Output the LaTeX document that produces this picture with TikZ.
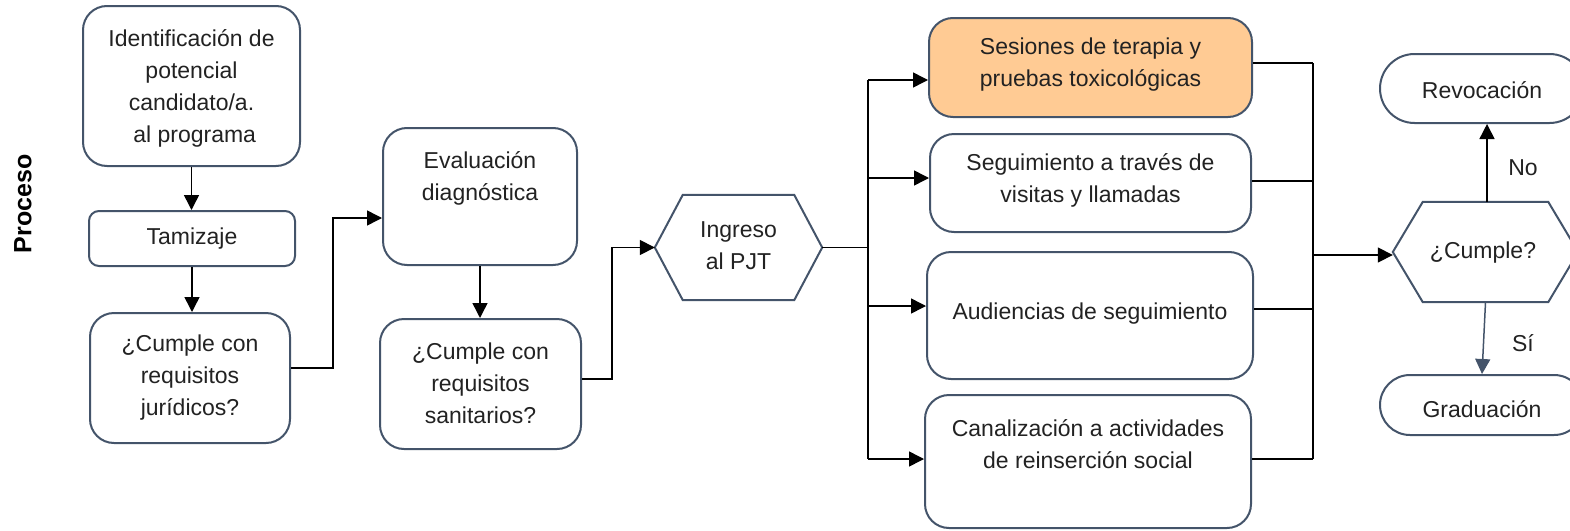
\documentclass[tikz,border=0pt]{standalone}
\usepackage{fontspec}
\setmainfont{Liberation Sans}
\usetikzlibrary{arrows.meta,calc}
\definecolor{bd}{HTML}{44546A}
\definecolor{og}{HTML}{FFCB94}
\definecolor{tx}{HTML}{222222}
\begin{document}
\begin{tikzpicture}[x=1pt,y=-1pt,
  box/.style={draw=bd,line width=2pt,rounded corners=24pt,fill=white,inner sep=0pt},
  hexbase/.style={inner sep=0pt},
  hexs/.style={draw=bd,line width=2pt,fill=white,line join=miter},
  txt/.style={font=\fontsize{23}{32}\selectfont,text=tx,align=center,inner sep=0pt},
  arr/.style={line width=1.5pt,-{Triangle[length=15pt,width=15pt]}},
  ln/.style={line width=1.5pt}]
\useasboundingbox (0,0) rectangle (1570,530);

% left column
\node[box,minimum width=217pt,minimum height=160pt] (id) at (191.5,86) {};
\node[txt] (idt) at (191.5,88) {Identificación de\\potencial\\candidato/a.\\~al programa};
\node[box,rounded corners=10pt,minimum width=206pt,minimum height=55pt] (tam) at (192,238.5) {};
\node[txt] (tamt) at (192,238.5) {Tamizaje};
\node[box,minimum width=200pt,minimum height=130pt] (jur) at (190,378) {};
\node[txt] (jurt) at (190,378) {¿Cumple con\\requisitos\\jurídicos?};

% second column
\node[box,minimum width=194pt,minimum height=137pt] (eval) at (480,196.5) {};
\node[txt] (evalt) at (480,178) {Evaluación\\diagnóstica};
\node[box,minimum width=201pt,minimum height=130pt] (san) at (480.5,384) {};
\node[txt] (sant) at (480.5,383) {¿Cumple con\\requisitos\\sanitarios?};

% Ingreso hexagon
\node[hexbase,minimum width=167pt,minimum height=105pt] (ing) at (738.5,247.5) {};
\draw[hexs] (ing.west) -- ([xshift=28pt]ing.north west) -- ([xshift=-28pt]ing.north east)
  -- (ing.east) -- ([xshift=-28pt]ing.south east) -- ([xshift=28pt]ing.south west) -- cycle;
\node[txt] (ingt) at (738.5,246) {Ingreso\\al PJT};

% right column boxes
\node[box,fill=og,minimum width=323pt,minimum height=99pt] (ses) at (1090.5,67.5) {};
\node[txt] (sest) at (1090.5,64.5) {Sesiones de terapia y\\pruebas toxicológicas};
\node[box,minimum width=321pt,minimum height=98pt] (seg) at (1090.5,183) {};
\node[txt] (segt) at (1090.5,180) {Seguimiento a través de\\visitas y llamadas};
\node[box,minimum width=326pt,minimum height=127pt] (aud) at (1090,315.5) {};
\node[txt] (audt) at (1090,314) {Audiencias de seguimiento};
\node[box,minimum width=326pt,minimum height=133pt] (can) at (1088,461.5) {};
\node[txt] (cant) at (1088,444) {Canalización a actividades\\de reinserción social};

% Cumple hexagon
\node[hexbase,minimum width=185pt,minimum height=100pt] (cum) at (1485.5,252) {};
\draw[hexs] (cum.west) -- ([xshift=30pt]cum.north west) -- ([xshift=-30pt]cum.north east)
  -- (cum.east) -- ([xshift=-30pt]cum.south east) -- ([xshift=30pt]cum.south west) -- cycle;
\node[txt] (cumt) at (1483,253) {¿Cumple?};

% terminals
\node[box,rounded corners=34.5pt,minimum width=204pt,minimum height=69pt] (rev) at (1482,88.5) {};
\node[txt] (revt) at (1482,90) {Revocación};
\node[box,rounded corners=30pt,minimum width=204pt,minimum height=60pt] (gra) at (1482,405) {};
\node[txt] (grat) at (1482,409) {Graduación};

% labels
\node[txt] (no) at (1523,168) {No};
\node[txt] (si) at (1523,343) {Sí};
\node[font=\fontsize{25}{30}\selectfont\bfseries,text=black,rotate=90,inner sep=0pt] (proc) at (23,204) {Proceso};

% connectors left
\draw[arr] (id.south) -- (id.south |- tam.north);
\draw[arr] (tam.south) -- (tam.south |- jur.north);
\coordinate (j1) at (333,368);
\draw[arr] (jur.east |- j1) -- (j1) |- ([yshift=-21.5pt]eval.west);
\draw[arr] (eval.south) -- (eval.south |- san.north);
\coordinate (s1) at (612,379);
\draw[arr] (san.east |- s1) -- (s1) |- (ing.west);

% bus left
\coordinate (b1) at (868,80);
\coordinate (b2) at (868,178);
\coordinate (b3) at (868,306);
\coordinate (b4) at (868,459);
\draw[ln] (ing.east) -- (ing.east -| b1);
\draw[ln] (b1) -- (b4);
\draw[arr] (b1) -- (ses.west |- b1);
\draw[arr] (b2) -- (seg.west |- b2);
\draw[arr] (b3) -- (aud.west |- b3);
\draw[arr] (b4) -- (can.west |- b4);

% bus right
\coordinate (r1) at (1313,63);
\coordinate (r2) at (1313,181);
\coordinate (r3) at (1313,309);
\coordinate (r4) at (1313,459);
\coordinate (rm) at (1313,255);
\draw[ln] (ses.east |- r1) -- (r1);
\draw[ln] (seg.east |- r2) -- (r2);
\draw[ln] (aud.east |- r3) -- (r3);
\draw[ln] (can.east |- r4) -- (r4);
\draw[ln] (r1) -- (r4);
\draw[arr] (rm) -- (cum.west |- rm);

% decision outputs
\draw[arr] ([xshift=1.5pt]cum.north) -- ([xshift=1.5pt]cum.north |- rev.south);
\draw[arr,draw=bd] (cum.south) -- (gra.north);
\end{tikzpicture}
\end{document}
